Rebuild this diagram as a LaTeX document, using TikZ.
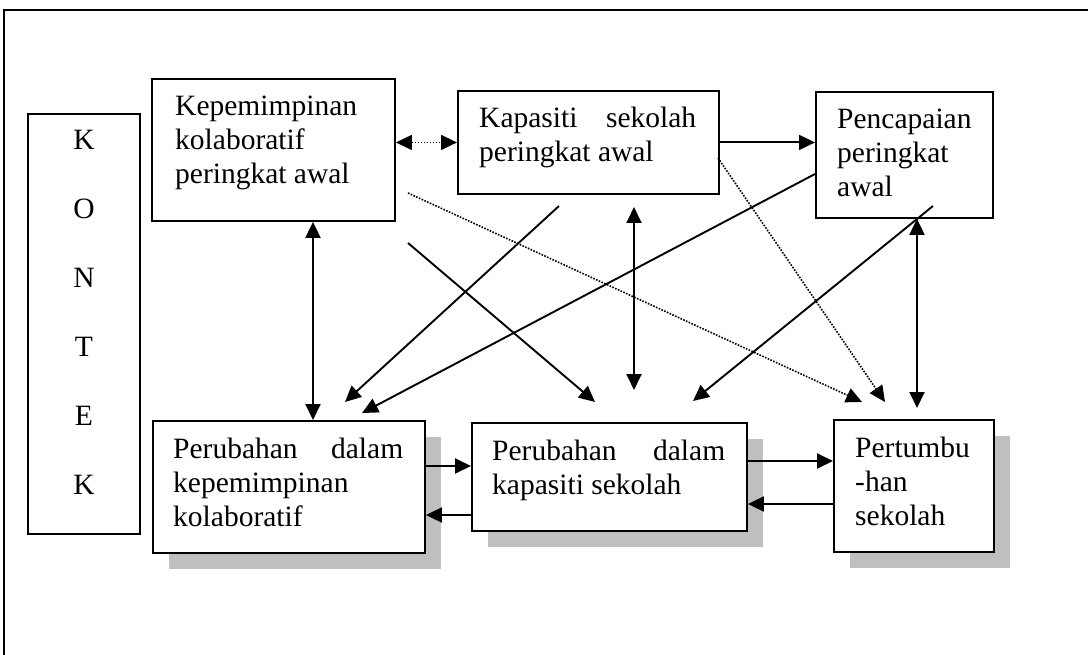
\documentclass[tikz,border=0pt]{standalone}
\usepackage{fontspec}
\setmainfont{Liberation Serif}
\usetikzlibrary{arrows.meta,shadows}
\begin{document}
\begin{tikzpicture}[x=1pt,y=-1pt,
  box/.style={draw, line width=1.9pt, fill=white, inner sep=0pt, anchor=north west},
  shbox/.style={box, drop shadow={shadow xshift=16pt, shadow yshift=-16pt, fill=black!25, opacity=1, draw=none}},
  txt/.style={anchor=base west, inner sep=0pt, font=\fontsize{29.5pt}{34pt}\selectfont},
  conn/.style={line width=1.9pt, -{Triangle[length=16pt,width=15pt]}},
  conn2/.style={line width=1.9pt, {Triangle[length=16pt,width=15pt]}-{Triangle[length=16pt,width=15pt]}},
  dots/.style={line width=1.6pt, dash pattern=on 1.6pt off 1.4pt},
  frame/.style={line width=1.8pt}]
\useasboundingbox (0,0) rectangle (1088,655);
% outer frame (only top and left edges visible)
\coordinate (frTR) at (1100,10);
\coordinate (frTL) at (4,10);
\coordinate (frBL) at (4,670);
\draw[frame] (frTR) -- (frTL) -- (frBL);

% boxes
\node[box, minimum width=112, minimum height=420] (K) at (27,113) {};
\node[box, minimum width=243, minimum height=142] (A) at (151,78) {};
\node[box, minimum width=261, minimum height=103] (B) at (457,90) {};
\node[box, minimum width=177, minimum height=126] (C) at (815,91) {};
\node[shbox, minimum width=272, minimum height=132] (D) at (152,420) {};
\node[shbox, minimum width=275, minimum height=108] (E) at (471,422) {};
\node[shbox, minimum width=160, minimum height=132] (F) at (833,419) {};

% texts
\node[txt, anchor=base, font=\fontsize{29.5pt}{69pt}\selectfont] (Kt) at (84,150)
  {\parbox[t]{60pt}{\centering K\\O\\N\\T\\E\\K}};
\node[txt] (At) at (175,116) {\parbox[t]{215pt}{Kepemimpinan\\kolaboratif\\peringkat awal}};
\node[txt] (Bt) at (479,128) {\parbox[t]{217pt}{\makebox[217pt]{Kapasiti\hfill sekolah}\\peringkat awal}};
\node[txt] (Ct) at (837,129) {\parbox[t]{150pt}{Pencapaian\\peringkat\\awal}};
\node[txt] (Dt) at (173,458) {\parbox[t]{230pt}{\makebox[230pt]{Perubahan\hfill dalam}\\kepemimpinan\\kolaboratif}};
\node[txt] (Et) at (492,460) {\parbox[t]{233pt}{\makebox[233pt]{Perubahan\hfill dalam}\\kapasiti sekolah}};
\node[txt] (Ft) at (855,457) {\parbox[t]{130pt}{Pertumbu\\-han\\sekolah}};

% helper coordinates
\coordinate (xAD) at (313,0);
\coordinate (xCF) at (917,0);
\coordinate (yDE1) at (0,466);
\coordinate (yDE2) at (0,515);
\coordinate (yEF1) at (0,461);
\coordinate (yEF2) at (0,504);
\coordinate (bvS) at (634,207);
\coordinate (bvE) at (634,390);
\coordinate (cfE) at (917,408);
\coordinate (b1s) at (559,206);
\coordinate (b1e) at (345,402);
\coordinate (c1s) at (815,174);
\coordinate (c1e) at (362,413);
\coordinate (a1s) at (408,243);
\coordinate (a1e) at (595,402);
\coordinate (a2s) at (408,193);
\coordinate (a2e) at (862,402);
\coordinate (b2s) at (718,158);
\coordinate (b2e) at (885,402);
\coordinate (c2s) at (933,206);
\coordinate (c2e) at (693,401);

% connectors
\draw[conn2, dots] (B.west -| A.east) -- (B.west);
\draw[conn] (B.east) -- (B.east -| C.west);
\draw[conn2] (A.south -| xAD) -- (D.north -| xAD);
\draw[conn2] (bvS) -- (bvE);
\draw[conn2] (C.south -| xCF) -- (cfE);
\draw[conn] (D.east |- yDE1) -- (E.west |- yDE1);
\draw[conn] (E.west |- yDE2) -- (D.east |- yDE2);
\draw[conn] (E.east |- yEF1) -- (F.west |- yEF1);
\draw[conn] (F.west |- yEF2) -- (E.east |- yEF2);
\draw[conn] (b1s) -- (b1e);
\draw[conn] (c1s) -- (c1e);
\draw[conn] (a1s) -- (a1e);
\draw[conn, dots] (a2s) -- (a2e);
\draw[conn, dots] (b2s) -- (b2e);
\draw[conn] (c2s) -- (c2e);
\end{tikzpicture}
\end{document}
